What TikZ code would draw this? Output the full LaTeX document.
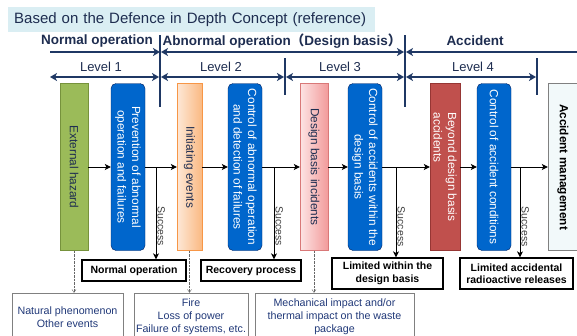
\documentclass[tikz,border=0pt]{standalone}
\usepackage{fontspec}
\setmainfont{Liberation Sans}
\newfontfamily\cjk{Noto Sans CJK SC}
\usetikzlibrary{arrows.meta}

\definecolor{lineblue}{RGB}{31,56,100}
\definecolor{textblue}{RGB}{30,45,80}
\definecolor{causeblue}{RGB}{32,56,120}
\definecolor{boxblue}{RGB}{0,102,204}
\definecolor{boxblueline}{RGB}{0,32,96}
\definecolor{hazgreen}{RGB}{155,187,89}
\definecolor{hazgreenline}{RGB}{118,146,60}
\definecolor{initlight}{RGB}{253,232,215}
\definecolor{initdark}{RGB}{250,185,130}
\definecolor{initline}{RGB}{247,150,70}
\definecolor{dbilight}{RGB}{253,228,228}
\definecolor{dbidark}{RGB}{242,155,155}
\definecolor{dbiline}{RGB}{217,120,120}
\definecolor{bdbared}{RGB}{192,80,77}
\definecolor{bdbaline}{RGB}{150,54,52}
\definecolor{amfill}{RGB}{242,249,250}
\definecolor{titlebg}{RGB}{218,238,243}

\begin{document}
\begin{tikzpicture}[x=1pt, y=-1pt, >={Stealth[length=6pt,width=6pt,inset=1.5pt]}]
        \tikzstyle{every node}=[inner sep=1pt]
        \tikzstyle{stage}=[rotate=-90, draw, minimum width=167pt, align=center, text=textblue, font=\fontsize{11.8}{14.5}\selectfont]
        \tikzstyle{safety}=[stage, fill=boxblue, draw=boxblueline, rounded corners=5pt, minimum height=34pt, text=white]
        \tikzstyle{phase}=[text=textblue, font=\fontsize{13.5}{15}\bfseries\selectfont]
        \tikzstyle{level}=[text=textblue, font=\fontsize{13}{15}\selectfont]
        \tikzstyle{result}=[draw, line width=1.2pt, align=center, font=\fontsize{10.5}{12.5}\bfseries\selectfont]
        \tikzstyle{cause}=[draw=gray, minimum height=48pt, align=center, text=causeblue, font=\fontsize{10.7}{12.8}\selectfont]
        \tikzstyle{succ}=[rotate=-90, anchor=south, text=black!75, font=\fontsize{10.5}{12}\selectfont]
        \tikzstyle{bound}=[lineblue, line width=1.8pt]
        \tikzstyle{span}=[bound, arrows={Stealth[length=7pt,width=8pt,inset=2pt]-Stealth[length=7pt,width=8pt,inset=2pt]}]
        \tikzstyle{flow}=[->, line width=0.9pt]
        \tikzstyle{hint}=[->, densely dotted, black!60, >={Straight Barb[length=3pt,width=4pt]}]
        \clip (0,0) rectangle (577,335);
        % title
        \node[fill=titlebg, anchor=west, inner xsep=6pt, text width=355pt, minimum height=25pt, font=\fontsize{15}{17}\selectfont, text=textblue] (title) at (8,19.5) {Based on the Defence in Depth Concept (reference)};
        % phases and levels
        \draw[bound] (160,35) -- (160,107);
        \draw[bound] (405,35) -- (405,107);
        \draw[bound] (285,58) -- (285,95);
        \draw[bound] (537,58) -- (537,95);
        \node[phase] (normal) at (97,41) {Normal operation};
        \node[phase] (abnormal) at (282,41) {Abnormal operation{\cjk （}Design basis{\cjk ）}};
        \node[phase] (accident) at (475,41) {Accident};
        \coordinate (n0) at (50,52); \coordinate (n1) at (160,52); \coordinate (n2) at (405,52); \coordinate (n3) at (580,52);
        \draw[span, arrows={-Stealth[length=7pt,width=8pt,inset=2pt]}] (n0) -- (n1);
        \draw[span] ([xshift=1pt]n1) -- ([xshift=-1pt]n2);
        \draw[span, arrows={Stealth[length=7pt,width=8pt,inset=2pt]-}] ([xshift=1pt]n2) -- (n3);
        \node[level] (lev1) at (101,67) {Level 1};
        \node[level] (lev2) at (221,67) {Level 2};
        \node[level] (lev3) at (340,67) {Level 3};
        \node[level] (lev4) at (473,67) {Level 4};
        \coordinate (l0) at (50,77); \coordinate (l1) at (160,77); \coordinate (l2) at (285,77); \coordinate (l3) at (405,77); \coordinate (l4) at (537,77);
        \draw[span] (l0) -- ([xshift=-1pt]l1);
        \draw[span] ([xshift=1pt]l1) -- ([xshift=-1pt]l2);
        \draw[span] ([xshift=1pt]l2) -- ([xshift=-1pt]l3);
        \draw[span] ([xshift=1pt]l3) -- ([xshift=-1pt]l4);
        % event chain
        \node[stage, fill=hazgreen, draw=hazgreenline, minimum height=28pt] (haz) at (74,167) {External hazard};
        \node[safety] (prev) at (128,167) {Prevention of abnormal\\operation and failures};
        \node[stage, left color=initlight, right color=initdark, draw=initline, minimum height=25pt] (init) at (189.5,167) {Initiating events};
        \node[safety] (ctrl1) at (245,167) {Control of abnormal operation\\and detection of failures};
        \node[stage, left color=dbilight, right color=dbidark, draw=dbiline, minimum height=28pt] (dbi) at (314,167) {Design basis incidents};
        \node[safety] (ctrl2) at (365,167) {Control of accidents within the\\design basis};
        \node[stage, fill=bdbared, draw=bdbaline, text=white, align=left, minimum height=30pt] (bdba) at (445,167) {Beyond design basis\\accidents};
        \node[safety] (ctrl3) at (494,167) {Control of accident conditions};
        \node[stage, fill=amfill, draw=gray, text=black, font=\fontsize{11.8}{14.5}\bfseries\selectfont, minimum height=30pt] (am) at (563,167) {Accident management};
        \draw[flow] (haz.north) -- (prev.south);
        \draw[flow] (prev.north) -- (init.south);
        \draw[flow] (init.north) -- (ctrl1.south);
        \draw[flow] (ctrl1.north) -- (dbi.south);
        \draw[flow] (dbi.north) -- (ctrl2.south);
        \draw[flow] (ctrl2.north) -- (bdba.south);
        \draw[flow] (bdba.north) -- (ctrl3.south);
        \draw[flow] (ctrl3.north) -- (am.south);
        % outcomes
        \node[result, minimum width=104pt, minimum height=21pt] (ok) at (134,270.5) {Normal operation};
        \node[result, minimum width=100pt, minimum height=21pt] (rec) at (251,270.5) {Recovery process};
        \node[result, minimum width=111pt, minimum height=31pt] (lim1) at (387.5,273.5) {Limited within the\\design basis};
        \node[result, minimum width=113pt, minimum height=31pt] (lim2) at (516.5,273.5) {Limited accidental\\radioactive releases};
        \coordinate (s1) at (156,167); \coordinate (s2) at (274,167); \coordinate (s3) at (396,167); \coordinate (s4) at (520,167);
        \draw[flow] (s1) -- node[succ, pos=0.64] {Success} (s1 |- ok.north);
        \draw[flow] (s2) -- node[succ, pos=0.64] {Success} (s2 |- rec.north);
        \draw[flow] (s3) -- node[succ, pos=0.66] {Success} (s3 |- lim1.north);
        \draw[flow] (s4) -- node[succ, pos=0.66] {Success} (s4 |- lim2.north);
        % causes
        \node[cause, minimum width=111pt] (nat) at (67.5,317) {Natural phenomenon\\Other events};
        \node[cause, minimum width=114pt] (fire) at (191,317) {Fire\\Loss of power\\Failure of systems, etc.};
        \node[cause, minimum width=159pt] (mech) at (334.5,317) {Mechanical impact and/or\\thermal impact on the waste\\package};
        \draw[hint] (haz.east) -- (haz.east |- nat.north);
        \draw[hint] (init.east) -- (init.east |- fire.north);
        \draw[hint] (dbi.east) -- (dbi.east |- mech.north);
\end{tikzpicture}
\end{document}
